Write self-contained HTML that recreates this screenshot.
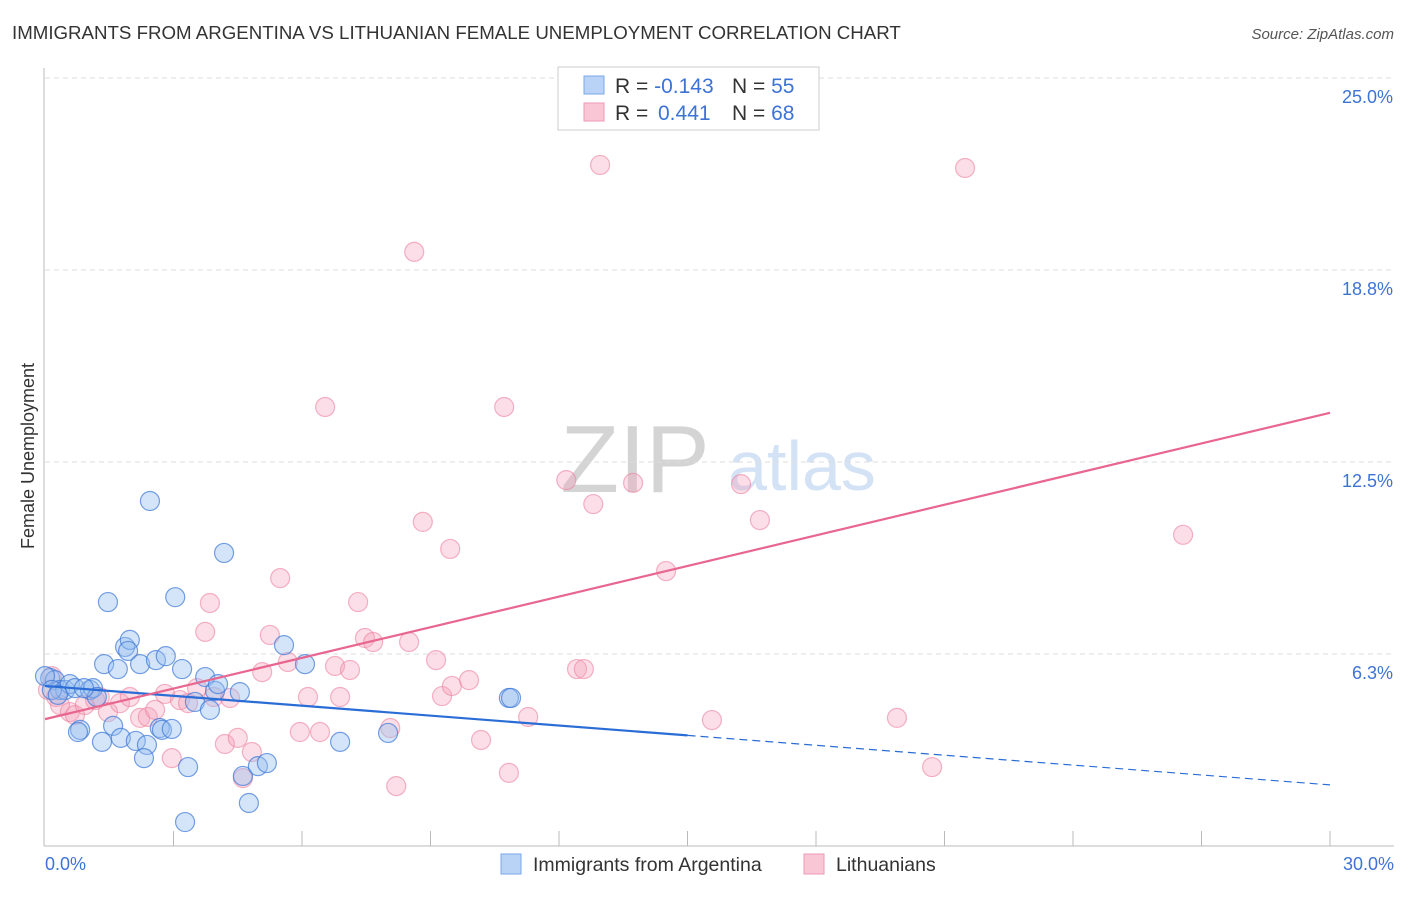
<!DOCTYPE html>
<html><head><meta charset="utf-8"><style>
body{margin:0;background:#fff;font-family:"Liberation Sans",sans-serif}
svg text{font-family:"Liberation Sans",sans-serif}
</style></head><body>
<svg id="c" width="1406" height="892">
<text x="12" y="39" font-size="18.7" fill="#333">IMMIGRANTS FROM ARGENTINA VS LITHUANIAN FEMALE UNEMPLOYMENT CORRELATION CHART</text>
<text x="1394" y="39" font-size="15" fill="#555" font-style="italic" text-anchor="end">Source: ZipAtlas.com</text>
<text x="34" y="456" font-size="18" fill="#333" transform="rotate(-90 34 456)" text-anchor="middle">Female Unemployment</text>
<text x="635" y="492" font-size="96" fill="#d4d4d4" font-family="Liberation Serif" text-anchor="middle">ZIP</text>
<text x="802" y="490" font-size="70" fill="#d3e2f5" text-anchor="middle">atlas</text>
<g id="grid"></g><g id="pts"></g><g id="lines"></g>
<g>
<rect x="558" y="67" width="261" height="63" fill="#fff" stroke="#ccc"/>
<rect x="584" y="76" width="20" height="18" fill="#b8d3f5" stroke="#7aa7e8"/>
<rect x="584" y="103" width="20" height="18" fill="#f9c6d5" stroke="#ee9ab4"/>
<text x="615" y="93" font-size="21" fill="#333">R = <tspan fill="#3d73d6">-0.143</tspan><tspan x="732">N = </tspan><tspan fill="#3d73d6">55</tspan></text>
<text x="615" y="120" font-size="21" fill="#333">R = <tspan x="658" fill="#3d73d6">0.441</tspan><tspan x="732">N = </tspan><tspan fill="#3d73d6">68</tspan></text>
</g>
<g>
<rect x="501" y="854" width="20" height="20" fill="#b8d3f5" stroke="#7aa7e8"/>
<text x="533" y="871" font-size="19.5" fill="#333">Immigrants from Argentina</text>
<rect x="804" y="854" width="20" height="20" fill="#f9c6d5" stroke="#ee9ab4"/>
<text x="836" y="871" font-size="19.5" fill="#333">Lithuanians</text>
</g>
</svg>
<script>
const yTicks=[25,18.75,12.5,6.25];
const yTickLabels=["25.0%","18.8%","12.5%","6.3%"];
const xMin=0,xMax=30;
const blueX=[0.12,0.23,0.35,0.47,0.58,0.7,1.05,1.12,1.21,0.82,0.77,1.33,1.59,1.38,1.7,1.47,1.87,1.98,1.94,2.22,2.45,2.59,2.82,3.04,3.2,1.77,2.12,2.38,2.31,2.68,2.73,2.96,3.34,3.27,3.5,3.74,3.97,4.04,3.85,4.18,4.55,4.62,4.76,4.97,5.18,5.58,6.07,6.89,8.01,10.83,10.88,0,0.16,0.3,0.91];
const blueY=[5.47,5.4,5.08,5.08,5.27,5.14,5.08,5.14,4.85,3.78,3.71,3.39,3.91,5.92,5.76,7.94,6.48,6.71,6.35,5.92,11.23,6.05,6.18,8.1,5.76,3.52,3.42,3.29,2.86,3.84,3.78,3.81,2.57,0.78,4.69,5.5,5.05,5.27,4.43,9.54,5.01,2.28,1.4,2.6,2.7,6.54,5.92,3.39,3.68,4.82,4.82,5.53,5.08,4.92,5.14];
const pinkX=[0.16,0.07,0.26,0.35,0.58,0.7,0.93,1.17,1.28,1.47,1.75,1.98,2.22,2.4,2.57,2.8,2.96,3.15,3.34,3.55,3.74,3.85,3.94,4.2,4.32,4.5,4.62,4.83,5.07,5.25,5.49,5.67,6.14,5.95,6.42,6.54,6.77,6.89,7.12,7.31,7.47,7.66,8.06,8.2,8.5,8.62,8.82,9.13,9.27,9.46,9.5,9.9,10.18,10.72,10.83,11.28,12.17,12.42,12.58,12.8,12.96,13.73,14.5,15.57,16.25,16.69,19.89,20.71,21.48,26.57];
const pinkY=[5.53,5.08,4.85,4.59,4.36,4.26,4.59,4.75,4.85,4.36,4.65,4.85,4.17,4.2,4.43,4.95,2.86,4.75,4.65,5.14,6.97,7.91,4.85,3.32,4.82,3.52,2.21,3.06,5.66,6.87,8.72,5.99,4.85,3.71,3.71,14.29,5.86,4.85,5.73,7.94,6.77,6.64,3.84,1.95,6.64,19.34,10.55,6.05,4.88,9.67,5.21,5.4,3.45,14.29,2.38,4.2,11.91,5.76,5.76,11.13,22.17,11.82,8.95,4.1,11.78,10.61,4.17,2.57,22.07,10.13];
const blueFit=[5.21,1.99];
const pinkFit=[4.13,14.1];
const X0=45,X1=1330,Y0=846,PY=30.72;
const sx=v=>X0+(v-xMin)/(xMax-xMin)*(X1-X0);
const sy=v=>Y0-v*PY;
const NS="http://www.w3.org/2000/svg";
function mk(t,a,p){const e=document.createElementNS(NS,t);for(const k in a)e.setAttribute(k,a[k]);p.appendChild(e);return e;}
const g=document.getElementById('grid');
const ax=mk('line',{x1:44,y1:68,x2:44,y2:846,stroke:'#bbb'},g);


const bx=mk('line',{x1:44,y1:846,x2:1394,y2:846,stroke:'#bbb'},g);


yTicks.forEach((v,i)=>{
 const l=mk('line',{x1:45,x2:1394,y1:sy(v),y2:sy(v),stroke:'#ddd','stroke-dasharray':'5,4'},g);
 
 
 const t=mk('text',{x:1393,y:sy(v)+25,'font-size':18,fill:'#3d73d6','text-anchor':'end'},g);
 t.textContent=yTickLabels[i];
 
 
});
for(let v=3;v<=30;v+=3){
 const l=mk('line',{x1:sx(v),x2:sx(v),y1:831,y2:846,stroke:'#bbb'},g);
 
 
}
const t0=mk('text',{x:45,y:870,'font-size':18,fill:'#3d73d6'},g);t0.textContent='0.0%';


const t1=mk('text',{x:1394,y:870,'font-size':18,fill:'#3d73d6','text-anchor':'end'},g);t1.textContent='30.0%';


const P=document.getElementById('pts');
pinkX.forEach((x,i)=>{
 const c=mk('circle',{cx:sx(x),cy:sy(pinkY[i]),r:9.5,fill:'rgba(244,160,185,0.35)',stroke:'rgba(236,130,160,0.6)','stroke-width':1.2},P);
 
 
});
blueX.forEach((x,i)=>{
 const c=mk('circle',{cx:sx(x),cy:sy(blueY[i]),r:9.5,fill:'rgba(150,190,240,0.4)',stroke:'rgba(60,120,215,0.7)','stroke-width':1.2},P);
 
 
});
const L=document.getElementById('lines');
const bf=x=>blueFit[0]+(blueFit[1]-blueFit[0])*x/30;
const pf=x=>pinkFit[0]+(pinkFit[1]-pinkFit[0])*x/30;
const b1=mk('line',{x1:sx(0),y1:sy(bf(0)),x2:sx(15),y2:sy(bf(15)),stroke:'#2a6dd6','stroke-width':2.2},L);


const b2=mk('line',{x1:sx(15),y1:sy(bf(15)),x2:sx(30),y2:sy(bf(30)),stroke:'#2a6dd6','stroke-width':1.2,'stroke-dasharray':'8,5'},L);


const p1=mk('line',{x1:sx(0),y1:sy(pf(0)),x2:sx(30),y2:sy(pf(30)),stroke:'#e8668f','stroke-width':2.2},L);


</script>
</body></html>
